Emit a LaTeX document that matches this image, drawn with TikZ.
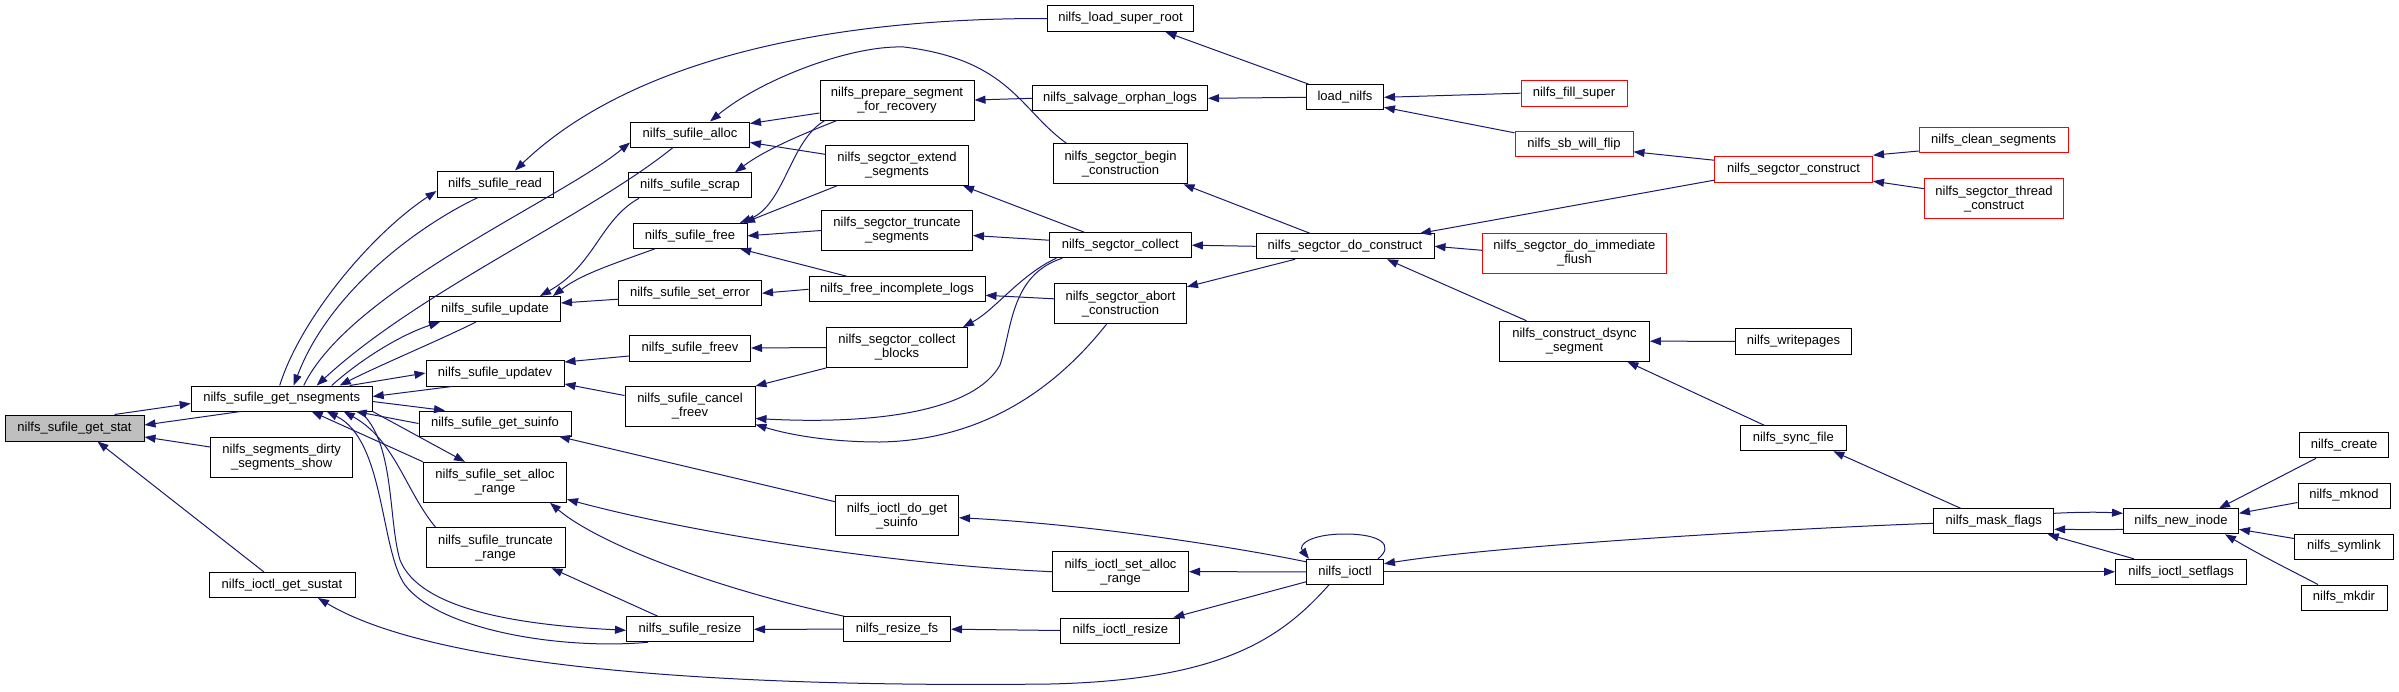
\documentclass[tikz,border=0pt]{standalone}
\usepackage{fontspec}
\newfontfamily\nf{Liberation Sans}
\usetikzlibrary{arrows.meta}
\definecolor{edgec}{RGB}{25,25,112}
\definecolor{gsfill}{RGB}{191,191,191}
\definecolor{redb}{RGB}{255,0,0}
\begin{document}
\begin{tikzpicture}[x=1pt,y=-1pt,
  bx/.style={draw=black, line width=1pt, fill=white, inner sep=0pt, align=center,
    font=\nf\fontsize{13}{14}\selectfont, minimum height=25pt},
  bb/.style={bx, minimum height=40pt},
  rb/.style={draw=redb},
  ed/.style={draw=edgec, line width=1pt, -{Triangle[length=11pt,width=8pt]}}]
\useasboundingbox (0,0) rectangle (2399,691);
% column 0
\node[bx, minimum width=139pt, minimum height=26pt, fill=gsfill] (gs) at (74.5,428) {nilfs\_sufile\_get\_stat};
% column 1
\node[bx, minimum width=181pt] (gn) at (281.7,398.5) {nilfs\_sufile\_get\_nsegments};
\node[bb, minimum width=142pt] (dss) at (281.7,457) {nilfs\_segments\_dirty\\\_segments\_show};
\node[bx, minimum width=146pt] (gsu) at (282,585) {nilfs\_ioctl\_get\_sustat};
% column 2
\node[bx, minimum width=116pt, minimum height=26pt] (rd) at (495,184) {nilfs\_sufile\_read};
\node[bx, minimum width=131pt] (up) at (495,309) {nilfs\_sufile\_update};
\node[bx, minimum width=138pt, minimum height=26pt] (upv) at (495,373) {nilfs\_sufile\_updatev};
\node[bx, minimum width=152pt] (gsi) at (495,423.5) {nilfs\_sufile\_get\_suinfo};
\node[bb, minimum width=143pt] (sar) at (495,482.3) {nilfs\_sufile\_set\_alloc\\\_range};
\node[bb, minimum width=139pt] (tr) at (495.5,547.7) {nilfs\_sufile\_truncate\\\_range};
% column 3
\node[bx, minimum width=119pt] (al) at (690,134.5) {nilfs\_sufile\_alloc};
\node[bx, minimum width=123pt] (sc) at (690,185.3) {nilfs\_sufile\_scrap};
\node[bx, minimum width=114pt] (fr) at (690,235.8) {nilfs\_sufile\_free};
\node[bx, minimum width=143pt] (se) at (690,293.2) {nilfs\_sufile\_set\_error};
\node[bx, minimum width=121pt, minimum height=26pt] (fv) at (690,348) {nilfs\_sufile\_freev};
\node[bb, minimum width=130pt] (cf) at (690,406.5) {nilfs\_sufile\_cancel\\\_freev};
\node[bx, minimum width=127pt] (rs) at (690,629.3) {nilfs\_sufile\_resize};
% column 4
\node[bb, minimum width=154pt] (ps) at (897,100) {nilfs\_prepare\_segment\\\_for\_recovery};
\node[bb, minimum width=143pt] (es) at (897,165.3) {nilfs\_segctor\_extend\\\_segments};
\node[bb, minimum width=151pt] (ts) at (897,230.5) {nilfs\_segctor\_truncate\\\_segments};
\node[bx, minimum width=176pt] (fil) at (897,289.3) {nilfs\_free\_incomplete\_logs};
\node[bb, minimum width=141pt] (cb) at (897,347.5) {nilfs\_segctor\_collect\\\_blocks};
\node[bb, minimum width=123pt] (dgs) at (897,515.7) {nilfs\_ioctl\_do\_get\\\_suinfo};
\node[bx, minimum width=107pt] (rfs) at (897,629.2) {nilfs\_resize\_fs};
% column 5
\node[bx, minimum width=146pt, minimum height=26pt] (lsr) at (1120.5,18.5) {nilfs\_load\_super\_root};
\node[bx, minimum width=175pt] (sol) at (1120,98.3) {nilfs\_salvage\_orphan\_logs};
\node[bb, minimum width=134pt] (bc) at (1120.5,163.8) {nilfs\_segctor\_begin\\\_construction};
\node[bx, minimum width=142pt] (co) at (1120.3,245.2) {nilfs\_segctor\_collect};
\node[bb, minimum width=132pt] (ac) at (1120.5,303.8) {nilfs\_segctor\_abort\\\_construction};
\node[bb, minimum width=136pt] (isar) at (1120.5,571.7) {nilfs\_ioctl\_set\_alloc\\\_range};
\node[bx, minimum width=119pt] (ir) at (1120.3,630.5) {nilfs\_ioctl\_resize};
% column 6
\node[bx, minimum width=77pt] (ln) at (1345,97.3) {load\_nilfs};
\node[bx, minimum width=178pt] (dc) at (1345,246.3) {nilfs\_segctor\_do\_construct};
\node[bx, minimum width=77pt] (io) at (1345,571.8) {nilfs\_ioctl};
% column 7
\node[bx, rb, minimum width=106pt, minimum height=26pt] (fs) at (1574,93.2) {nilfs\_fill\_super};
\node[bx, rb, minimum width=118pt] (sbf) at (1574,143.8) {nilfs\_sb\_will\_flip};
\node[bb, rb, minimum width=184pt] (dif) at (1574.4,253.3) {nilfs\_segctor\_do\_immediate\\\_flush};
\node[bb, minimum width=150pt] (dsy) at (1574.4,341.2) {nilfs\_construct\_dsync\\\_segment};
% column 8
\node[bx, rb, minimum width=158pt, minimum height=26pt] (sct) at (1793.5,169.2) {nilfs\_segctor\_construct};
\node[bx, minimum width=116pt, minimum height=26pt] (wp) at (1793.5,341.3) {nilfs\_writepages};
\node[bx, minimum width=106pt] (sf) at (1793.3,438.3) {nilfs\_sync\_file};
% column 9
\node[bx, rb, minimum width=149pt] (cs) at (1993.7,140) {nilfs\_clean\_segments};
\node[bb, rb, minimum width=139pt] (tc) at (1994,198.7) {nilfs\_segctor\_thread\\\_construct};
\node[bx, minimum width=120pt] (mf) at (1993.7,521.3) {nilfs\_mask\_flags};
% column 10
\node[bx, minimum width=115pt] (ni) at (2181,521.3) {nilfs\_new\_inode};
\node[bx, minimum width=131pt] (isf) at (2181,571.8) {nilfs\_ioctl\_setflags};
% column 11
\node[bx, minimum width=89pt] (cr) at (2344,445.3) {nilfs\_create};
\node[bx, minimum width=92pt] (mk) at (2344,495.5) {nilfs\_mknod};
\node[bx, minimum width=99pt] (sy) at (2344,546.5) {nilfs\_symlink};
\node[bx, minimum width=86pt] (md) at (2344,597.5) {nilfs\_mkdir};

% ---- edges ----
\draw[ed] ([xshift=40pt]gs.north) -- ([yshift=-5pt]gn.west);
\draw[ed] ([xshift=-41pt]gn.south) -- ([yshift=3pt]gs.east);
\draw[ed] ([yshift=10pt]dss.west) -- ([yshift=-9pt]gs.east);
\draw[ed] ([xshift=-18pt]gsu.north) -- ([xshift=23pt]gs.south);
\draw[ed] ([xshift=-16pt]io.south) .. controls (1280,640) and (1220,680) .. (1050,684)
   .. controls (700,688) and (430,665) .. ([xshift=36pt]gsu.south);
\draw[ed] ([xshift=-2pt]gn.north) .. controls (300,320) and (370,235) .. ([yshift=-7pt]rd.west);
\draw[ed] ([xshift=-17pt]rd.south) .. controls (420,225) and (330,290) .. ([xshift=12pt]gn.north);
\draw[ed] ([xshift=22pt]gn.north) .. controls (350,290) and (560,200) .. ([yshift=-8pt]al.west);
\draw[ed] ([xshift=-17pt]al.south) .. controls (590,215) and (420,290) .. ([xshift=35pt]gn.north);
\draw[ed] ([xshift=50pt]gn.north) .. controls (360,360) and (400,335) .. ([xshift=-55pt]up.south);
\draw[ed] ([xshift=-19pt]up.south) .. controls (440,340) and (380,365) .. ([xshift=58pt]gn.north);
\draw[ed] ([xshift=68pt]gn.north) -- (upv.west);
\draw[ed] ([xshift=-43pt]upv.south) -- ([yshift=2pt]gn.east);
\draw[ed] ([yshift=-3pt]gn.east) -- ([xshift=-50pt]gsi.north);
\draw[ed] (gsi.west) -- ([xshift=74pt]gn.south);
\draw[ed] (gn.south east) -- ([xshift=-30pt]sar.north);
\draw[ed] (sar.north west) -- ([xshift=30pt]gn.south);
\draw[ed] ([xshift=-60pt]tr.north) .. controls (405,490) and (395,440) .. ([xshift=62pt]gn.south);
\draw[ed] ([xshift=78pt]gn.south) .. controls (395,440) and (388,520) .. (400,560)
   .. controls (420,610) and (520,625) .. ([yshift=-1pt]rs.west);
\draw[ed] ([xshift=-42pt]rs.south) .. controls (560,650) and (440,630) .. (405,585)
   .. controls (380,550) and (385,440) .. ([xshift=45pt]gn.south);
\draw[ed] (lsr.west) .. controls (800,18) and (620,70) .. ([xshift=20pt]rd.north);
\draw[ed] ([xshift=-51pt]sc.south) .. controls (600,220) and (595,265) .. ([xshift=45pt]up.north);
\draw[ed] ([xshift=-35pt]fr.south) .. controls (610,265) and (580,275) .. ([xshift=58pt]up.north);
\draw[ed] ([yshift=-6pt]se.west) -- ([yshift=6pt]up.east);
\draw[ed] ([yshift=-8pt]fv.west) -- ([yshift=11pt]upv.east);
\draw[ed] ([yshift=11pt]cf.west) -- ([yshift=-11pt]upv.east);
\draw[ed] ([yshift=14pt]dgs.west) -- ([xshift=64pt]gsi.south);
\draw[ed] (isar.west) .. controls (900,565) and (700,535) .. ([yshift=-17pt]sar.east);
\draw[ed] ([xshift=-53pt]rfs.north) .. controls (720,590) and (600,545) .. ([xshift=55pt]sar.south);
\draw[ed] ([xshift=-32pt]rs.north) -- ([xshift=56pt]tr.south);
\draw[ed] (rfs.west) -- (rs.east);
\draw[ed] ([yshift=-13pt]ps.west) -- ([yshift=11pt]al.east);
\draw[ed] ([yshift=11pt]es.west) -- ([yshift=-8pt]al.east);
\draw[ed] ([xshift=-54pt]bc.north) .. controls (1020,110) and (1010,60) .. (904,47)
   .. controls (850,45) and (760,80) .. ([xshift=20pt]al.north);
\draw[ed] ([xshift=-60pt]ps.south) .. controls (800,135) and (765,150) .. ([xshift=45pt]sc.north);
\draw[ed] ([xshift=-72pt]ps.south) .. controls (790,140) and (785,205) .. ([xshift=50pt]fr.north);
\draw[ed] ([xshift=-60pt]es.south) -- ([xshift=54pt]fr.north);
\draw[ed] (ts.west) -- (fr.east);
\draw[ed] ([xshift=-50pt]fil.north) -- ([xshift=50pt]fr.south);
\draw[ed] (fil.west) -- (se.east);
\draw[ed] (cb.west) -- (fv.east);
\draw[ed] (cb.south west) -- (cf.north east);
\draw[ed] ([xshift=-58pt]co.south) .. controls (1010,275) and (1012,330) .. (1000,365)
   .. controls (975,410) and (880,425) .. ([yshift=-12pt]cf.east);
\draw[ed] ([xshift=-14pt]ac.south) .. controls (1070,370) and (1000,440) .. (880,442)
   .. controls (830,442) and (790,435) .. ([yshift=-18pt]cf.east);
\draw[ed] ([xshift=-64pt]co.south) .. controls (1020,275) and (995,310) .. ([xshift=66pt]cb.north);
\draw[ed] (sol.west) -- (ps.east);
\draw[ed] ([xshift=-36pt]co.north) -- ([xshift=66pt]es.south);
\draw[ed] ([yshift=5pt]co.west) -- ([yshift=-5pt]ts.east);
\draw[ed] ([yshift=5pt]ac.west) -- ([yshift=-6pt]fil.east);
\draw[ed] ([yshift=10pt]io.west) .. controls (1250,550) and (1100,525) .. ([yshift=-2pt]dgs.east);
\draw[ed] (io.west) -- (isar.east);
\draw[ed] (ir.west) -- (rfs.east);
\draw[ed] ([yshift=-10pt]io.west) -- ([xshift=53pt]ir.north);
\draw[ed] ([xshift=-36pt]ln.north) -- ([xshift=45pt]lsr.south);
\draw[ed] (ln.west) -- (sol.east);
\draw[ed] ([xshift=-35pt]dc.north) -- ([xshift=63pt]bc.south);
\draw[ed] (dc.west) -- (co.east);
\draw[ed] ([xshift=-50pt]dc.south) -- ([yshift=17pt]ac.east);
\draw[ed] (fs.west) -- (ln.east);
\draw[ed] ([yshift=11pt]sbf.west) -- ([yshift=-10pt]ln.east);
\draw[ed] ([yshift=-11pt]sct.west) -- ([xshift=75pt]dc.north);
\draw[ed] ([yshift=3pt]dif.west) -- (dc.east);
\draw[ed] ([xshift=-48pt]dsy.north) -- ([xshift=42pt]dc.south);
\draw[ed] ([xshift=33pt]io.north) .. controls (1395,545) and (1380,534) .. (1345,534)
   .. controls (1310,534) and (1298,545) .. ([xshift=-36pt]io.north);
\draw[ed] ([yshift=-2pt]mf.west) .. controls (1800,528) and (1500,545) .. ([yshift=8pt]io.east);
\draw[ed] (io.east) -- (isf.west);
\draw[ed] ([yshift=9pt]sct.west) -- ([yshift=-8pt]sbf.east);
\draw[ed] (wp.west) -- (dsy.east);
\draw[ed] ([xshift=-29pt]sf.north) -- ([xshift=53pt]dsy.south);
\draw[ed] ([yshift=-11pt]cs.west) -- ([yshift=14pt]sct.east);
\draw[ed] ([yshift=10pt]tc.west) -- ([yshift=-12pt]sct.east);
\draw[ed] ([xshift=-33pt]mf.north) -- ([xshift=40pt]sf.south);
\draw[ed] ([yshift=8pt]mf.east) .. controls (2080,512) and (2100,512) .. ([yshift=8pt]ni.west);
\draw[ed] ([yshift=-8pt]ni.west) .. controls (2100,530) and (2080,529.5) .. ([yshift=-8pt]mf.east);
\draw[ed] ([xshift=-47pt]isf.north) -- ([xshift=54pt]mf.south);
\draw[ed] ([xshift=-28pt]cr.south) -- ([xshift=38pt]ni.north);
\draw[ed] ([yshift=-7pt]mk.west) -- ([yshift=8pt]ni.east);
\draw[ed] ([yshift=8pt]sy.west) -- ([yshift=-8pt]ni.east);
\draw[ed] ([xshift=-26pt]md.north) .. controls (2290,570) and (2260,555) .. ([xshift=44pt]ni.south);
\end{tikzpicture}
\end{document}
